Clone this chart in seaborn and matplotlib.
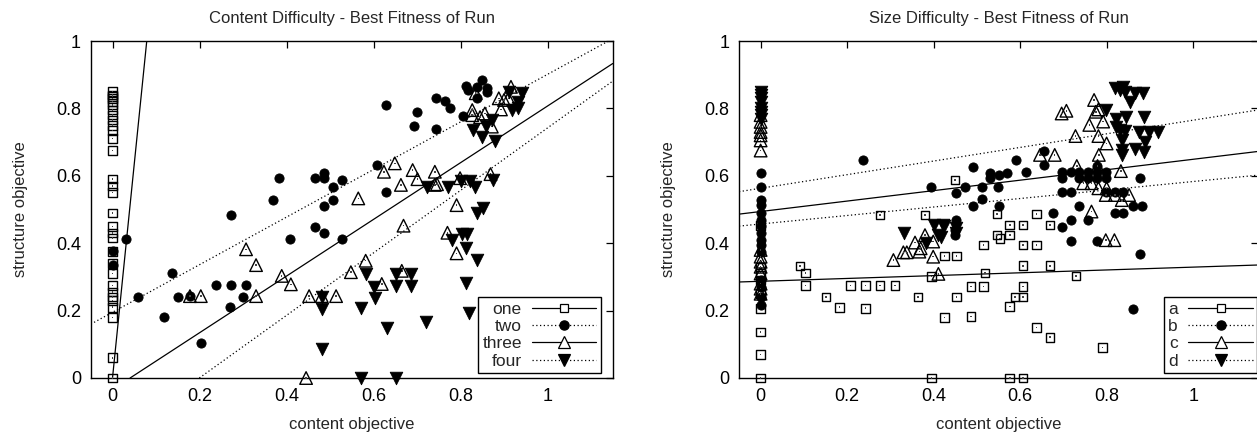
import numpy as np
import pandas as pd
import matplotlib
matplotlib.use("Agg")
import matplotlib.pyplot as plt
import seaborn as sns
from matplotlib.lines import Line2D
from matplotlib.ticker import FuncFormatter

# ---------------- data: left panel (Content Difficulty) ----------------
one_x = [0.0, 0.0, 0.0, 0.0, 0.0, 0.0, 0.0, 0.0, 0.0, 0.0, 0.0, 0.0, 0.0, 0.0, 0.0, 0.0,
         0.0, 0.0, 0.0, 0.0, 0.0, 0.0, 0.0, 0.0, 0.0, 0.0, 0.0, 0.0, 0.0, 0.0, 0.0]
one_y = [0.85, 0.84, 0.835, 0.83, 0.82, 0.81, 0.795, 0.78, 0.765, 0.75, 0.735, 0.71, 0.675,
         0.59, 0.57, 0.55, 0.49, 0.45, 0.43, 0.415, 0.375, 0.34, 0.31, 0.275, 0.255, 0.24,
         0.23, 0.21, 0.18, 0.06, 0.0]

two_x = [0.031, 0.0, 0.0, 0.058, 0.136, 0.150, 0.178, 0.118, 0.203, 0.238, 0.272, 0.270,
         0.301, 0.307, 0.408, 0.466, 0.272, 0.383, 0.368, 0.466, 0.629, 0.701, 0.744, 0.764,
         0.776, 0.692, 0.744, 0.806, 0.812, 0.818, 0.837, 0.849, 0.860, 0.862, 0.837, 0.609,
         0.486, 0.486, 0.506, 0.527, 0.506, 0.486, 0.629, 0.486, 0.527]
two_y = [0.413, 0.377, 0.335, 0.241, 0.311, 0.241, 0.243, 0.181, 0.103, 0.275, 0.275, 0.212,
         0.241, 0.275, 0.412, 0.449, 0.483, 0.593, 0.528, 0.593, 0.810, 0.790, 0.832, 0.822,
         0.800, 0.748, 0.738, 0.777, 0.866, 0.855, 0.864, 0.884, 0.860, 0.848, 0.830, 0.632,
         0.607, 0.593, 0.568, 0.588, 0.528, 0.510, 0.551, 0.429, 0.412]

three_x = [0.178, 0.203, 0.307, 0.330, 0.389, 0.410, 0.330, 0.452, 0.445, 0.565, 0.649,
           0.624, 0.690, 0.701, 0.741, 0.663, 0.741, 0.746, 0.799, 0.869, 0.791, 0.669,
           0.770, 0.835, 0.916, 0.888, 0.900, 0.910, 0.893, 0.827, 0.827, 0.845, 0.856,
           0.872, 0.791, 0.582, 0.548, 0.665, 0.619, 0.481, 0.514]
three_y = [0.243, 0.243, 0.382, 0.335, 0.303, 0.278, 0.243, 0.243, 0.0, 0.533, 0.637,
           0.612, 0.617, 0.590, 0.612, 0.573, 0.573, 0.575, 0.593, 0.605, 0.513, 0.452,
           0.431, 0.845, 0.864, 0.830, 0.825, 0.830, 0.797, 0.795, 0.780, 0.774, 0.785,
           0.746, 0.370, 0.348, 0.314, 0.318, 0.279, 0.243, 0.243]

four_x = [0.912, 0.941, 0.933, 0.918, 0.933, 0.872, 0.859, 0.828, 0.849, 0.879, 0.722,
          0.772, 0.801, 0.822, 0.833, 0.874, 0.852, 0.839, 0.803, 0.814, 0.780, 0.812,
          0.839, 0.582, 0.651, 0.686, 0.601, 0.651, 0.686, 0.603, 0.481, 0.481, 0.571,
          0.812, 0.820, 0.720, 0.632, 0.481, 0.571, 0.651]
four_y = [0.850, 0.845, 0.820, 0.795, 0.800, 0.766, 0.748, 0.736, 0.716, 0.703, 0.568,
          0.568, 0.585, 0.585, 0.568, 0.588, 0.505, 0.489, 0.427, 0.427, 0.410, 0.385,
          0.350, 0.308, 0.308, 0.308, 0.271, 0.273, 0.273, 0.236, 0.241, 0.204, 0.209,
          0.283, 0.192, 0.167, 0.147, 0.086, 0.0, 0.0]

# fitted lines (slope, intercept)
left_slopes = [12.7, 0.706, 0.841, 0.927]
left_intercepts = [0.0, 0.195, -0.034, -0.185]
left_labels = ["one", "two", "three", "four"]

# ---------------- data: right panel (Size Difficulty) ----------------
a_x = [0.0, 0.0, 0.0, 0.0, 0.0, 0.0, 0.0, 0.0, 0.0,
       0.091, 0.104, 0.104, 0.151, 0.182, 0.208, 0.243, 0.276, 0.311, 0.243, 0.364, 0.395,
       0.425, 0.425, 0.453, 0.453, 0.395, 0.276, 0.380, 0.449, 0.547, 0.638, 0.576, 0.607,
       0.669, 0.547, 0.553, 0.576, 0.515, 0.607, 0.638, 0.607, 0.669, 0.519, 0.729, 0.486,
       0.515, 0.607, 0.588, 0.607, 0.576, 0.486, 0.638, 0.669, 0.790, 0.576, 0.607]
a_y = [0.452, 0.330, 0.311, 0.291, 0.251, 0.207, 0.137, 0.070, 0.0,
       0.332, 0.311, 0.274, 0.241, 0.210, 0.274, 0.274, 0.274, 0.274, 0.207, 0.241, 0.301,
       0.180, 0.362, 0.362, 0.241, 0.0, 0.484, 0.484, 0.588, 0.487, 0.487, 0.454, 0.454,
       0.454, 0.424, 0.414, 0.424, 0.395, 0.395, 0.395, 0.333, 0.333, 0.311, 0.303, 0.271,
       0.271, 0.271, 0.241, 0.241, 0.212, 0.182, 0.150, 0.121, 0.090, 0.0, 0.0]

b_x = [0.0, 0.0, 0.0, 0.0, 0.0, 0.0, 0.0, 0.0, 0.0, 0.0, 0.0, 0.0, 0.0, 0.0, 0.0,
       0.236, 0.393, 0.452, 0.452, 0.492, 0.590, 0.655, 0.655, 0.530, 0.552, 0.570, 0.530,
       0.613, 0.472, 0.511, 0.549, 0.696, 0.717, 0.737, 0.757, 0.777, 0.798, 0.777, 0.696,
       0.737, 0.757, 0.777, 0.798, 0.696, 0.717, 0.798, 0.819, 0.838, 0.492, 0.511, 0.552,
       0.737, 0.860, 0.881, 0.819, 0.838, 0.677, 0.717, 0.757, 0.696, 0.877, 0.717, 0.777,
       0.877, 0.860, 0.450, 0.450]
b_y = [0.607, 0.568, 0.528, 0.513, 0.489, 0.469, 0.450, 0.430, 0.410, 0.395, 0.375, 0.290,
       0.270, 0.240, 0.217,
       0.647, 0.568, 0.548, 0.469, 0.627, 0.647, 0.674, 0.632, 0.609, 0.602, 0.607, 0.593,
       0.612, 0.568, 0.568, 0.568, 0.612, 0.612, 0.612, 0.612, 0.612, 0.612, 0.629, 0.593,
       0.593, 0.593, 0.593, 0.593, 0.551, 0.551, 0.551, 0.551, 0.551, 0.510, 0.530, 0.510,
       0.510, 0.510, 0.510, 0.489, 0.489, 0.489, 0.469, 0.469, 0.449, 0.593, 0.408, 0.408,
       0.368, 0.204, 0.440, 0.425]

c_x = [0.0, 0.0, 0.0, 0.0, 0.0, 0.0, 0.0, 0.0, 0.0, 0.0, 0.0, 0.0, 0.0, 0.0, 0.0,
       0.307, 0.330, 0.338, 0.357, 0.367, 0.370, 0.380, 0.399, 0.399, 0.411, 0.646, 0.680,
       0.696, 0.707, 0.728, 0.760, 0.781, 0.771, 0.781, 0.775, 0.792, 0.800, 0.782, 0.731,
       0.779, 0.833, 0.746, 0.765, 0.781, 0.800, 0.798, 0.819, 0.852, 0.835, 0.765, 0.798,
       0.818]
c_y = [0.780, 0.760, 0.745, 0.730, 0.720, 0.705, 0.675, 0.380, 0.360, 0.345, 0.330, 0.310,
       0.280, 0.265, 0.250,
       0.350, 0.373, 0.373, 0.402, 0.375, 0.385, 0.424, 0.405, 0.360, 0.309, 0.662, 0.662,
       0.785, 0.793, 0.718, 0.751, 0.718, 0.825, 0.797, 0.790, 0.761, 0.696, 0.662, 0.629,
       0.629, 0.614, 0.578, 0.578, 0.563, 0.563, 0.543, 0.543, 0.543, 0.528, 0.494, 0.409,
       0.409]

d_x = [0.0, 0.0, 0.0, 0.0, 0.0, 0.0, 0.0, 0.0,
       0.401, 0.422, 0.332, 0.411, 0.418, 0.382, 0.452, 0.452, 0.424, 0.819, 0.831, 0.838,
       0.842, 0.865, 0.885, 0.854, 0.798, 0.822, 0.844, 0.822, 0.830, 0.842, 0.835, 0.835,
       0.835, 0.865, 0.886, 0.875, 0.899, 0.919, 0.889, 0.886]
d_y = [0.850, 0.840, 0.830, 0.820, 0.800, 0.790, 0.780, 0.770,
       0.454, 0.454, 0.431, 0.424, 0.417, 0.400, 0.444, 0.429, 0.451, 0.860, 0.855, 0.864,
       0.850, 0.845, 0.845, 0.820, 0.795, 0.768, 0.775, 0.746, 0.736, 0.734, 0.706, 0.677,
       0.662, 0.681, 0.774, 0.731, 0.731, 0.731, 0.701, 0.672]

right_slopes = [0.042, 0.126, 0.155, 0.202]
right_intercepts = [0.287, 0.457, 0.494, 0.563]
right_labels = ["a", "b", "c", "d"]

x_ticks = [0, 0.2, 0.4, 0.6, 0.8, 1]
y_ticks = [0, 0.2, 0.4, 0.6, 0.8, 1]

# ---------------- styling ----------------
sns.set_style("white")
plt.rcParams["font.family"] = ["Liberation Sans", "DejaVu Sans"]

W, H = 1257, 434
fig = plt.figure(figsize=(W / 100, H / 100), dpi=100)
ax_l = fig.add_axes([90.75 / W, 56 / H, 522 / W, 337 / H])
ax_r = fig.add_axes([739 / W, 56 / H, 519 / W, 337 / H])

styles = [
    dict(marker="s", s=38, filled=False, ls="-"),
    dict(marker="o", s=44, filled=True, ls=(0, (1, 2))),
    dict(marker="^", s=82, filled=False, ls="-"),
    dict(marker="v", s=82, filled=True, ls=(0, (1, 2))),
]


def draw_points(ax, xs, ys, st):
    df = pd.DataFrame({"x": xs, "y": ys})
    if st["filled"]:
        sns.scatterplot(data=df, x="x", y="y", ax=ax, marker=st["marker"], s=st["s"],
                        color="black", edgecolor="black", linewidth=0.6, zorder=3,
                        clip_on=False, legend=False)
    else:
        sns.scatterplot(data=df, x="x", y="y", ax=ax, marker=st["marker"], s=st["s"],
                        facecolor="none", edgecolor="black", linewidth=1.0, zorder=3,
                        clip_on=False, legend=False)
        sns.scatterplot(data=df, x="x", y="y", ax=ax, marker="s", s=1.2,
                        color="#444444", edgecolor="none", linewidth=0, zorder=3,
                        clip_on=False, legend=False)


def draw_panel(ax, series, slopes, intercepts, labels, title, leg_anchor):
    for (xs, ys), st in zip(series, styles):
        draw_points(ax, xs, ys, st)
    for m, b, st in zip(slopes, intercepts, styles):
        ax.axline((0, b), slope=m, color="black", lw=0.9, ls=st["ls"], zorder=2)
    ax.set_xlim(-0.05, 1.15)
    ax.set_ylim(0, 1)
    ax.set_xticks(x_ticks)
    ax.set_yticks(y_ticks)
    fmt = FuncFormatter(lambda v, p: "%g" % v)
    ax.xaxis.set_major_formatter(fmt)
    ax.yaxis.set_major_formatter(fmt)
    ax.tick_params(direction="in", length=5, width=0.9, top=True, right=True,
                   labelsize=13, colors="black", pad=7)
    for sp in ax.spines.values():
        sp.set_color("black")
        sp.set_linewidth(1.0)
        sp.set_visible(True)
    ax.set_xlabel("content objective", fontsize=12, labelpad=9)
    ax.set_ylabel("structure objective", fontsize=12, labelpad=20)
    ax.set_title(title, fontsize=12, pad=13)
    handles = []
    for st in styles:
        handles.append(Line2D([], [], color="black", lw=0.9, ls=st["ls"], marker=st["marker"],
                              markersize=np.sqrt(st["s"]),
                              markerfacecolor="black" if st["filled"] else "white",
                              markeredgecolor="black", markeredgewidth=0.9))
    leg = ax.legend(handles, labels, loc="lower right", bbox_to_anchor=leg_anchor,
                    markerfirst=False, frameon=True, fancybox=False, framealpha=1,
                    edgecolor="black", fontsize=12.5, handlelength=3.7, handletextpad=0.6,
                    labelspacing=0.12, borderpad=0.25, borderaxespad=0)
    leg.get_frame().set_linewidth(1.0)


draw_panel(ax_l, [(one_x, one_y), (two_x, two_y), (three_x, three_y), (four_x, four_y)],
           left_slopes, left_intercepts, left_labels,
           "Content Difficulty - Best Fitness of Run", (0.977, 0.015))
draw_panel(ax_r, [(a_x, a_y), (b_x, b_y), (c_x, c_y), (d_x, d_y)],
           right_slopes, right_intercepts, right_labels,
           "Size Difficulty - Best Fitness of Run", (0.998, 0.015))

fig.savefig("out.png", dpi=100)
